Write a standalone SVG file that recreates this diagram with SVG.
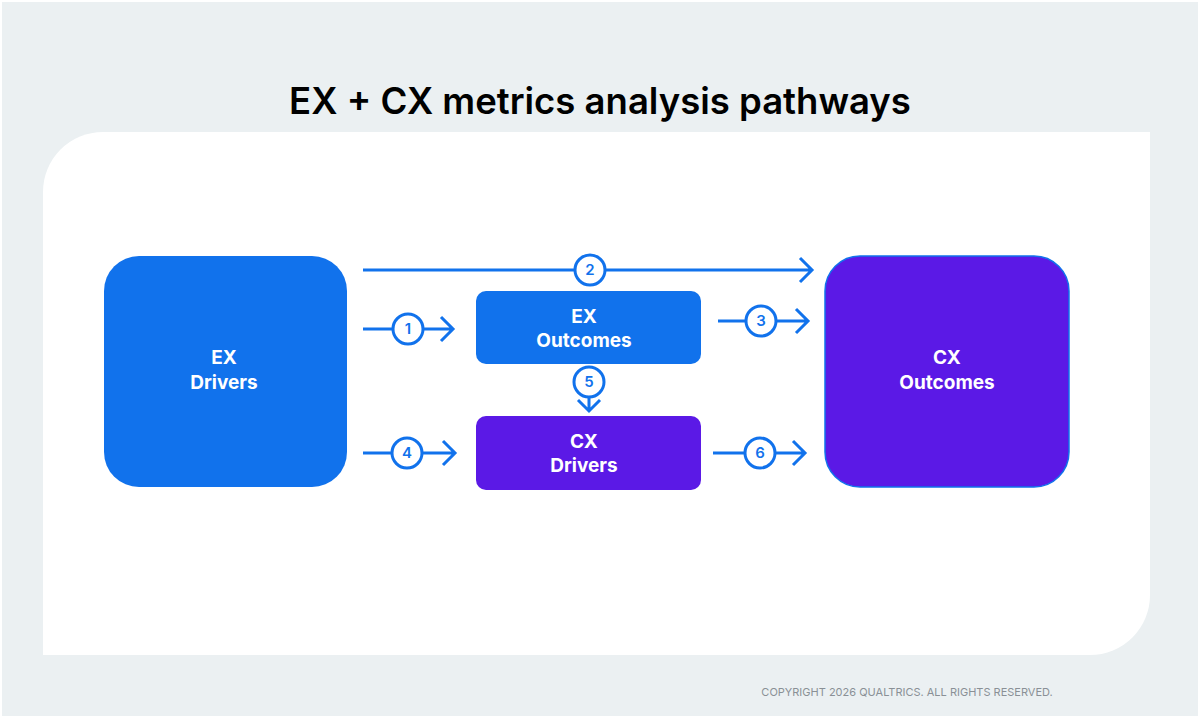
<svg xmlns="http://www.w3.org/2000/svg" width="1200" height="718" viewBox="0 0 1200 718">
<style>
.t{font-family:Inter,"Liberation Sans",sans-serif;font-weight:700;fill:#fff;font-size:19px;text-anchor:middle}
.c{fill:#fff;stroke:#1172EC;stroke-width:3}
.n{font-family:Inter,"Liberation Sans",sans-serif;font-weight:600;fill:#1172EC;font-size:15px;text-anchor:middle}
.l{stroke:#1172EC;stroke-width:3;fill:none}
</style>
<rect width="1200" height="718" fill="#fff"/>
<rect x="2" y="2" width="1196" height="714" fill="#EBF0F2"/>
<path d="M103,132 H1150 V595 A60,60 0 0 1 1090,655 H43 V192 A60,60 0 0 1 103,132 Z" fill="#fff"/>
<text x="600" y="114" font-family="Inter,'Liberation Sans',sans-serif" font-weight="600" font-size="36.5" text-anchor="middle" fill="#000">EX + CX metrics analysis pathways</text>
<g id="ex-drivers"><rect x="104" y="256" width="243" height="231" rx="35" fill="#1172EC"/><text class="t" x="224" y="364">EX</text><text class="t" x="224" y="389">Drivers</text></g>
<g id="cx-outcomes"><rect x="825" y="256" width="244" height="231" rx="35" fill="#5B19E6" stroke="#1172EC" stroke-width="1.5"/><text class="t" x="947" y="364">CX</text><text class="t" x="947" y="389">Outcomes</text></g>
<g id="ex-outcomes"><rect x="476" y="291" width="225" height="73" rx="10" fill="#1172EC"/><text class="t" x="584" y="323">EX</text><text class="t" x="584" y="347">Outcomes</text></g>
<g id="cx-drivers"><rect x="476" y="416" width="225" height="74" rx="10" fill="#5B19E6"/><text class="t" x="584" y="448">CX</text><text class="t" x="584" y="472">Drivers</text></g>
<g id="connectors">
<path class="l" d="M363,270 H812 M800,258 L812,270 L800,282"/><circle class="c" cx="590" cy="270" r="15"/><text class="n" x="590" y="275">2</text>
<path class="l" d="M363,329 H453 M441,317 L453,329 L441,341"/><circle class="c" cx="408" cy="329" r="15"/><text class="n" x="408" y="334">1</text>
<path class="l" d="M718,321 H808 M796,309 L808,321 L796,333"/><circle class="c" cx="761" cy="321" r="15"/><text class="n" x="761" y="326">3</text>
<path class="l" d="M363,453 H455 M443,441 L455,453 L443,465"/><circle class="c" cx="407" cy="453" r="15"/><text class="n" x="407" y="458">4</text>
<path class="l" d="M713,453 H805 M793,441 L805,453 L793,465"/><circle class="c" cx="760" cy="453" r="15"/><text class="n" x="760" y="458">6</text>
<path class="l" d="M589,382 V411 M578,400 L589,411 L600,400"/><circle class="c" cx="589" cy="382" r="15"/><text class="n" x="589" y="387">5</text>
</g>
<text x="907" y="696" font-family="Inter,'Liberation Sans',sans-serif" font-size="11" fill="#8A9096" text-anchor="middle">COPYRIGHT 2026 QUALTRICS. ALL RIGHTS RESERVED.</text>
</svg>
